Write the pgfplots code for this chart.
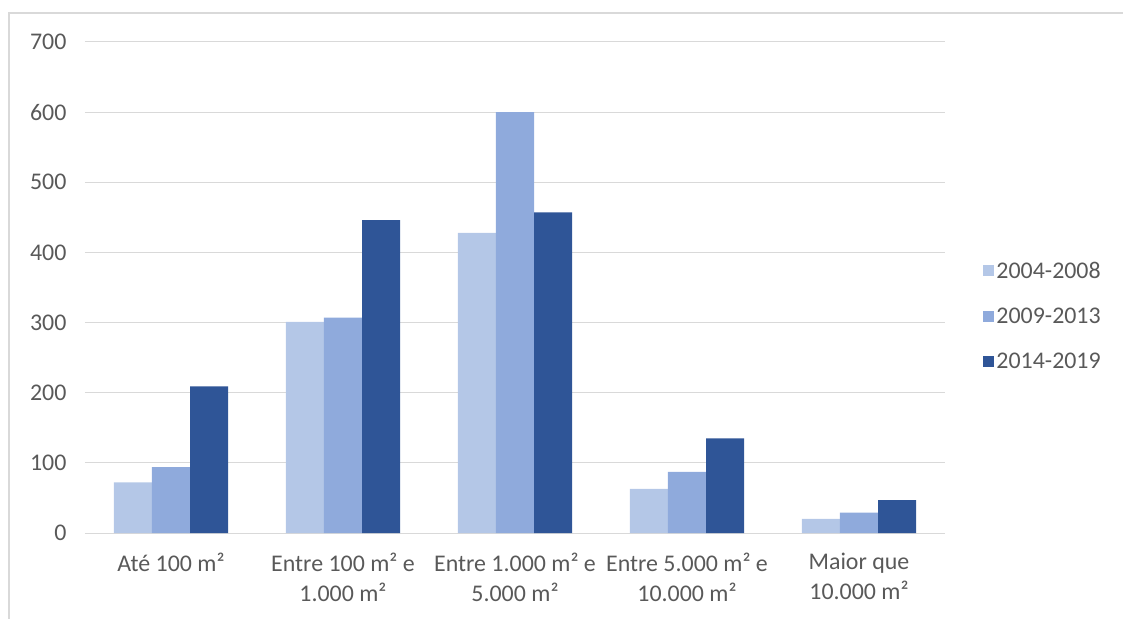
\documentclass[border=0pt]{standalone}
\usepackage{pgfplots}
\pgfplotsset{compat=1.18}
\usepackage{fontspec}
\setmainfont{Carlito}
\definecolor{c1}{HTML}{B4C7E7}
\definecolor{c2}{HTML}{8FAADC}
\definecolor{c3}{HTML}{2F5597}
\definecolor{txt}{HTML}{595959}
\definecolor{grd}{HTML}{D9D9D9}
\begin{document}
\begin{tikzpicture}
\path[use as bounding box] (-85bp,-86bp) rectangle (1038bp,533bp);
\draw[grd, line width=1.2bp] (-76bp,-86bp) -- (-76bp,520bp) -- (1038bp,520bp);
\begin{axis}[
  scale only axis, width=860bp, height=491bp,
  xmin=-0.5, xmax=4.5, ymin=0, ymax=700,
  ytick={0,100,...,700},
  xtick=data,
  xticklabels={{Até 100 m²},{Entre 100 m² e\\1.000 m²},{Entre 1.000 m² e\\5.000 m²},{Entre 5.000 m² e\\10.000 m²},{Maior que\\10.000 m²}},
  ybar=0pt, bar width=0.2216,
  ymajorgrids, grid style={grd, line width=1bp},
  axis line style={draw=none},
  major tick style={draw=none},
  /pgf/number format/assume math mode=true,
  tick label style={font=\fontsize{24}{30}\selectfont, text=txt},
  xticklabel style={align=center, yshift=-12bp},
  yticklabel style={xshift=-15bp},
  legend style={at={(1.041,0.442)}, anchor=west, draw=none, fill=none,
    font=\fontsize{24}{30}\selectfont, text=txt, row sep=24bp,
    /tikz/every even column/.append style={column sep=2bp}},
  legend cell align=left,
  legend image code/.code={\fill[#1] (0bp,-5.5bp) rectangle (11bp,5.5bp);},
]
\addplot[fill=c1, draw=none] coordinates {(0,72) (1,301) (2,428) (3,63) (4,20)};
\addplot[fill=c2, draw=none] coordinates {(0,94) (1,307) (2,600) (3,87) (4,29)};
\addplot[fill=c3, draw=none] coordinates {(0,209) (1,446) (2,457) (3,135) (4,47)};
\legend{2004-2008,2009-2013,2014-2019}
\end{axis}
\end{tikzpicture}
\end{document}
